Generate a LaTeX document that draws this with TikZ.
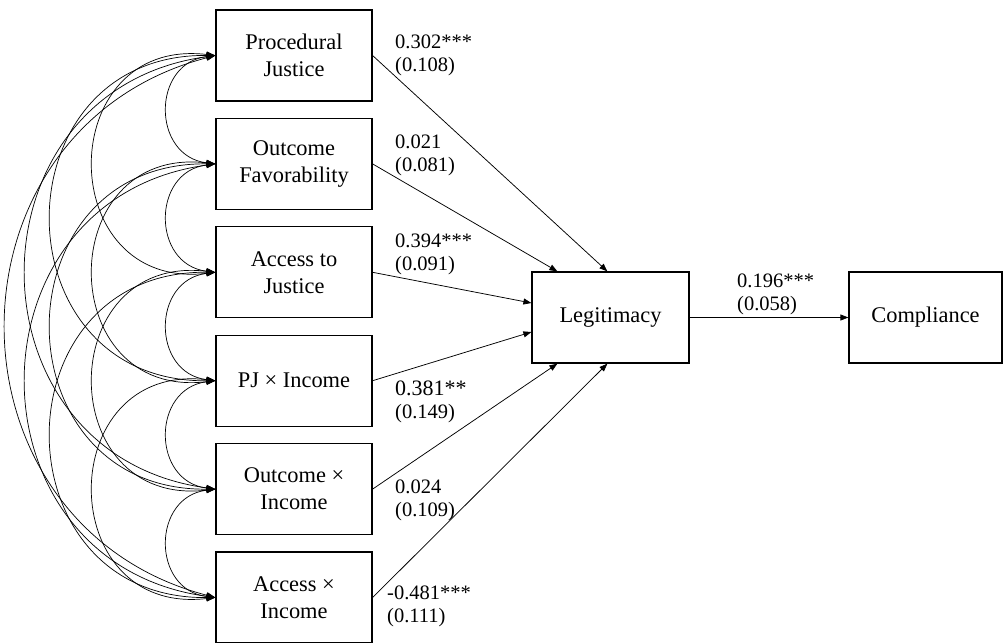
\documentclass[tikz,border=0pt]{standalone}
\usepackage{fontspec}
\setmainfont{Liberation Serif}
\usetikzlibrary{arrows.meta}
\begin{document}
\begin{tikzpicture}[x=1pt,y=-1pt,
  box/.style={draw, line width=1.2pt, minimum width=156pt, minimum height=91pt, inner sep=0pt, align=center, font=\fontsize{22.4}{27}\selectfont},
  reg/.style={line width=0.75pt, -{Triangle[length=8pt,width=6pt]}},
  cov/.style={line width=0.7pt, {Triangle[length=9pt,width=6pt]}-{Triangle[length=9pt,width=6pt]}},
  lab/.style={anchor=base west, inner sep=0pt, font=\fontsize{20.5}{23.5}\selectfont}
]
\useasboundingbox (0,0) rectangle (1003,643);
\clip (0,0) rectangle (1003,642);

% exogenous boxes
\node[box] (pj)  at (294,55.5)  {Procedural\\Justice};
\node[box] (of)  at (294,163.9) {Outcome\\Favorability};
\node[box] (aj)  at (294,272.3) {Access to\\Justice};
\node[box] (pji) at (294,380.7) {PJ × Income};
\node[box] (oi)  at (294,489.1) {Outcome ×\\Income};
\node[box] (ai)  at (294,597.5) {Access ×\\Income};

% endogenous boxes
\node[box, minimum width=157pt] (leg)  at (610.5,317.5) {Legitimacy};
\node[box, minimum width=153pt] (comp) at (925.5,317.5) {Compliance};

% regression paths
\draw[reg] (pj.east)  -- ([xshift=76pt]leg.north west);
\draw[reg] (of.east)  -- ([xshift=26pt]leg.north west);
\draw[reg] (aj.east)  -- ([yshift=14.5pt]leg.west);
\draw[reg] (pji.east) -- ([yshift=-14.5pt]leg.west);
\draw[reg] (oi.east)  -- ([xshift=26pt]leg.south west);
\draw[reg] (ai.east)  -- ([xshift=76pt]leg.south west);
\draw[reg] (leg) -- (comp);

% covariances, distance 1
\draw[cov] (pj.west)  .. controls +(-63.9,7.8) and +(-63.9,-7.8) .. (of.west);
\draw[cov] (of.west)  .. controls +(-63.9,7.8) and +(-63.9,-7.8) .. (aj.west);
\draw[cov] (aj.west)  .. controls +(-63.9,7.8) and +(-63.9,-7.8) .. (pji.west);
\draw[cov] (pji.west) .. controls +(-63.9,7.8) and +(-63.9,-7.8) .. (oi.west);
\draw[cov] (oi.west)  .. controls +(-63.9,7.8) and +(-63.9,-7.8) .. (ai.west);
% distance 2
\draw[cov] (pj.west)  .. controls +(-162.6,-19.1) and +(-162.6,19.1) .. (aj.west);
\draw[cov] (of.west)  .. controls +(-162.6,-19.1) and +(-162.6,19.1) .. (pji.west);
\draw[cov] (aj.west)  .. controls +(-162.6,-19.1) and +(-162.6,19.1) .. (oi.west);
\draw[cov] (pji.west) .. controls +(-162.6,-19.1) and +(-162.6,19.1) .. (ai.west);
% distance 3
\draw[cov] (pj.west)  .. controls +(-218.7,-1.9) and +(-218.7,1.9) .. (pji.west);
\draw[cov] (of.west)  .. controls +(-218.7,-1.9) and +(-218.7,1.9) .. (oi.west);
\draw[cov] (aj.west)  .. controls +(-218.7,-1.9) and +(-218.7,1.9) .. (ai.west);
% distance 4
\draw[cov] (pj.west)  .. controls +(-252.1,34.5) and +(-252.1,-34.5) .. (oi.west);
\draw[cov] (of.west)  .. controls +(-252.1,34.5) and +(-252.1,-34.5) .. (ai.west);
% distance 5
\draw[cov] (pj.west)  .. controls +(-278.9,73.2) and +(-278.9,-73.2) .. (ai.west);

% coefficient labels
\node[lab] (l1) at (395,48)  {\begin{tabular}[t]{@{}l@{}}0.302***\\(0.108)\end{tabular}};
\node[lab] (l2) at (395,148) {\begin{tabular}[t]{@{}l@{}}0.021\\(0.081)\end{tabular}};
\node[lab] (l3) at (395,247) {\begin{tabular}[t]{@{}l@{}}0.394***\\(0.091)\end{tabular}};
\node[lab] (l4) at (395,395) {\begin{tabular}[t]{@{}l@{}}{\fontsize{22}{23.5}\selectfont 0.381**}\\(0.149)\end{tabular}};
\node[lab] (l5) at (395,493) {\begin{tabular}[t]{@{}l@{}}0.024\\(0.109)\end{tabular}};
\node[lab] (l6) at (387,599) {\begin{tabular}[t]{@{}l@{}}-0.481***\\(0.111)\end{tabular}};
\node[lab] (l7) at (737,287) {\begin{tabular}[t]{@{}l@{}}0.196***\\(0.058)\end{tabular}};
\end{tikzpicture}
\end{document}
